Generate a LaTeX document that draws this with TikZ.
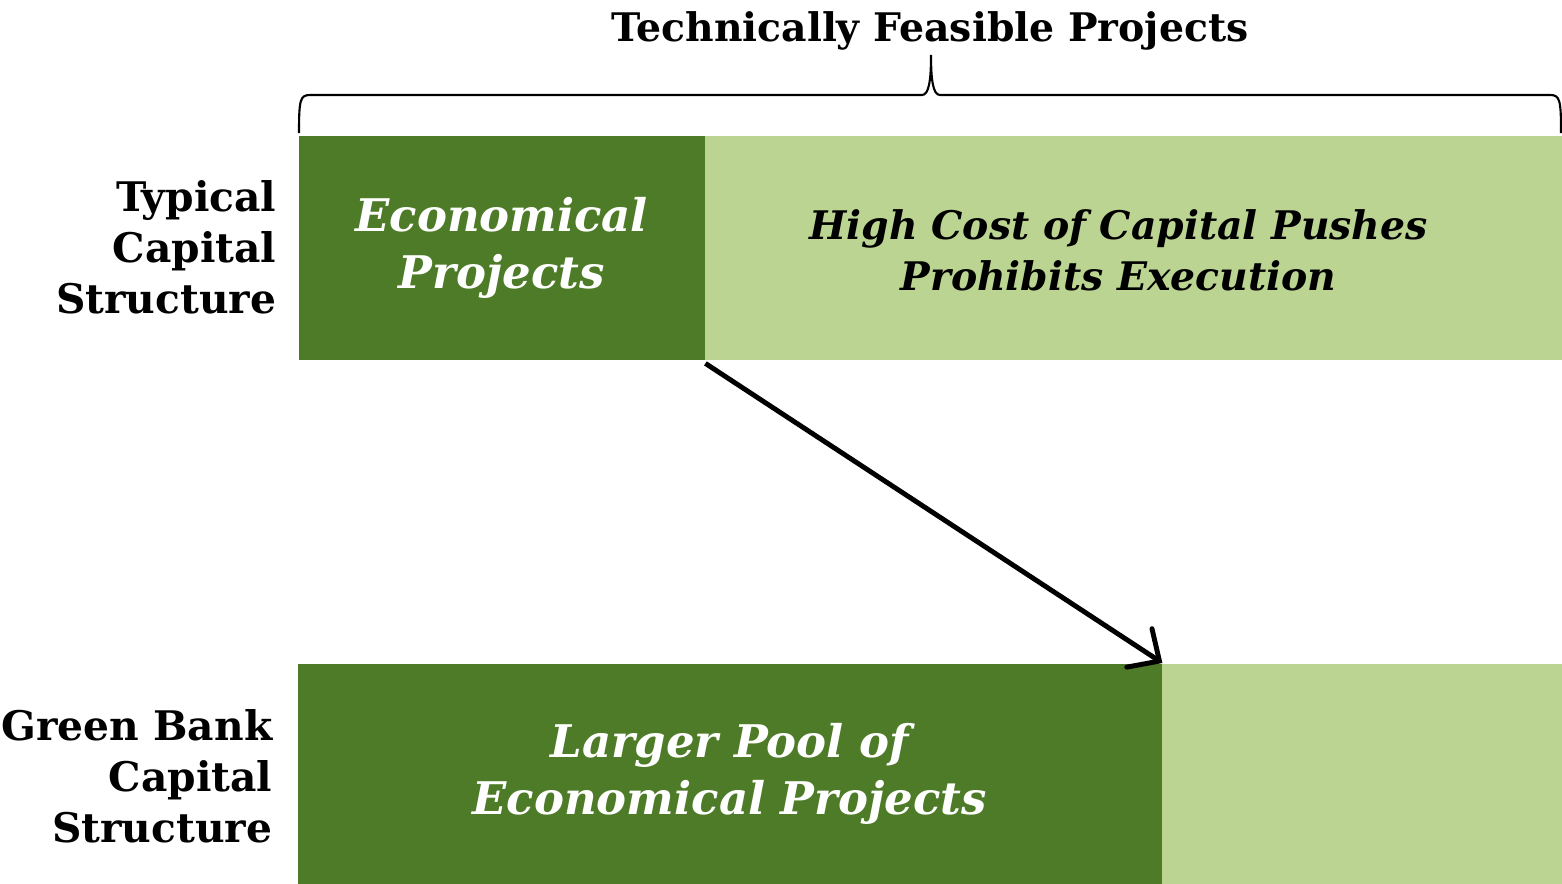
\documentclass[tikz,border=0pt]{standalone}
\usepackage{fontspec}
\setmainfont{DejaVu Serif}
\usetikzlibrary{arrows.meta}
\definecolor{darkgreen}{HTML}{4E7B27}
\definecolor{lightgreen}{HTML}{BBD492}
\tikzset{
    darkbox/.style={fill=darkgreen, text=white, anchor=north west, inner sep=0pt, align=center, font=\bfseries\itshape\fontsize{12.8}{16.3}\selectfont},
    lightbox/.style={fill=lightgreen, text=black, anchor=north west, inner sep=0pt, align=center},
    rowlabel/.style={anchor=east, align=right, inner sep=0pt, font=\bfseries\fontsize{11.6}{14.5}\selectfont},
    pusharrow/.style={draw, line width=1.4pt, line join=round, -{Straight Barb[length=2.4mm, width=4.6mm, line cap=round]}}
}
\begin{document}
\begin{tikzpicture}
    \useasboundingbox (0,0) rectangle (15.62,-8.83);
    % top row
    \node[darkbox, minimum width=4.06cm, minimum height=2.24cm] (econ) at (2.98,-1.35) {Economical\\Projects};
    \node[lightbox, minimum width=8.59cm, minimum height=2.24cm] (highcost) at ([xshift=-0.01cm]econ.north east) {};
    \node[font=\bfseries\itshape\fontsize{11.2}{14.5}\selectfont, align=center] (highcosttext) at ([xshift=-0.16cm,yshift=-0.03cm]highcost.center) {High Cost of Capital Pushes\\Prohibits Execution};
    \node[rowlabel] (typical) at (2.77,-2.47) {Typical\\Capital\\Structure};
    % bottom row
    \node[darkbox, minimum width=8.64cm, minimum height=2.20cm] (pool) at (2.97,-6.63) {Larger Pool of\\Economical Projects};
    \node[lightbox, minimum width=4.02cm, minimum height=2.20cm] (rest) at ([xshift=-0.01cm]pool.north east) {};
    \node[rowlabel] (greenbank) at (2.73,-7.76) {Green Bank\\Capital\\Structure};
    % brace over the top row
    \node[font=\bfseries\fontsize{11.2}{14}\selectfont] (feasible) at (9.30,-0.31) {Technically Feasible Projects};
    \draw[line width=0.6pt] (2.99,-1.33) .. controls (2.99,-1.00) and (3.00,-0.95) .. (3.10,-0.95)
        -- (9.22,-0.95) .. controls (9.29,-0.95) and (9.31,-0.80) .. (9.31,-0.55)
        .. controls (9.31,-0.80) and (9.33,-0.95) .. (9.40,-0.95)
        -- (15.50,-0.95) .. controls (15.60,-0.95) and (15.61,-1.00) .. (15.61,-1.33);
    % shift of the economic frontier
    \draw[pusharrow] ([yshift=-0.03cm]econ.south east) -- (pool.north east);
\end{tikzpicture}
\end{document}
